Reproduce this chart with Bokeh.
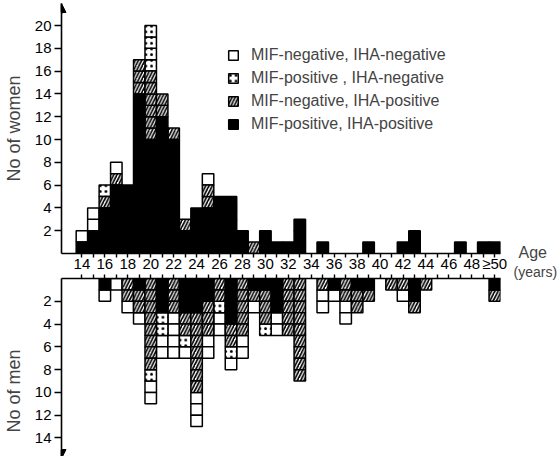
from bokeh.plotting import figure
from bokeh.models import (Range1d, FixedTicker, ColumnDataSource, Legend, LegendItem,
                          Label, Arrow, NormalHead)
from bokeh.layouts import column, row
from bokeh.embed import file_html
from bokeh.resources import INLINE

# ---------------- data ----------------
ages = list(range(14, 51))          # 50 stands for ">=50"
x_tick_values = [14, 16, 18, 20, 22, 24, 26, 28, 30, 32, 34, 36, 38, 40, 42, 44, 46, 48, 50]
x_tick_labels = ["14", "16", "18", "20", "22", "24", "26", "28", "30", "32", "34", "36",
                 "38", "40", "42", "44", "46", "48", "≥50"]
women_y_ticks = [2, 4, 6, 8, 10, 12, 14, 16, 18, 20]
men_y_ticks = [2, 4, 6, 8, 10, 12, 14]

categories = ["MIF-negative, IHA-negative", "MIF-positive , IHA-negative",
              "MIF-negative, IHA-positive", "MIF-positive, IHA-positive"]

#              14 15 16 17 18 19  20  21  22 23 24 25 26 27 28 29 30 31 32 33 34 35 36 37 38 39 40 41 42 43 44 45 46 47 48 49 50
women_negneg = [1, 2, 0, 1, 0, 0,  0,  0,  0, 0, 0, 1, 0, 0, 0, 0, 0, 0, 0, 0, 0, 0, 0, 0, 0, 0, 0, 0, 0, 0, 0, 0, 0, 0, 0, 0, 0]
women_posneg = [0, 0, 1, 0, 0, 0,  4,  0,  0, 0, 0, 0, 0, 0, 0, 0, 0, 0, 0, 0, 0, 0, 0, 0, 0, 0, 0, 0, 0, 0, 0, 0, 0, 0, 0, 0, 0]
women_negpos = [0, 0, 1, 1, 0, 3,  6,  2,  1, 1, 0, 2, 0, 0, 0, 1, 0, 0, 0, 0, 0, 0, 0, 0, 0, 0, 0, 0, 0, 0, 0, 0, 0, 0, 0, 0, 0]
women_pospos = [1, 2, 4, 6, 6, 14, 10, 12, 10, 2, 4, 4, 5, 5, 2, 0, 2, 1, 1, 3, 0, 1, 0, 0, 0, 1, 0, 0, 1, 2, 0, 0, 0, 1, 0, 1, 1]

#            14 15 16 17 18 19 20 21 22 23 24 25 26 27 28 29 30 31 32 33 34 35 36 37 38 39 40 41 42 43 44 45 46 47 48 49 50
men_negneg = [0, 0, 1, 1, 1, 1, 2, 2, 4, 1, 3, 2, 2, 1, 2, 1, 0, 2, 0, 0, 0, 2, 1, 2, 0, 0, 0, 0, 1, 0, 0, 0, 0, 0, 0, 0, 0]
men_posneg = [0, 0, 0, 0, 0, 0, 1, 2, 0, 1, 0, 0, 1, 1, 0, 0, 1, 0, 0, 0, 0, 0, 0, 0, 0, 0, 0, 0, 0, 0, 0, 0, 0, 0, 0, 0, 0]
men_negpos = [0, 0, 0, 0, 2, 2, 8, 0, 3, 2, 7, 3, 2, 2, 5, 1, 3, 0, 5, 9, 0, 1, 0, 2, 2, 1, 0, 1, 1, 1, 1, 0, 0, 0, 0, 0, 1]
men_pospos = [0, 0, 1, 0, 0, 1, 0, 3, 0, 3, 3, 2, 0, 4, 0, 1, 1, 3, 0, 0, 0, 0, 1, 0, 1, 1, 0, 0, 0, 2, 0, 0, 0, 0, 0, 0, 1]

# ---------------- styling ----------------
FONT = "Liberation Sans"
styles = [
    dict(fill_color="white"),
    dict(fill_color="white", hatch_pattern=".", hatch_scale=5.7, hatch_weight=1.0, hatch_color="black"),
    dict(fill_color="white", hatch_pattern="/", hatch_scale=6.5, hatch_weight=1.7, hatch_color="black"),
    dict(fill_color="black"),
]
odd_ages = [a for a in ages if a not in x_tick_values]


def stack_cells(series):
    """series in legend order; stacked from the axis: pos/pos, neg/pos, pos/neg, neg/neg"""
    order = [3, 2, 1, 0]
    out = [dict(x=[], y=[]) for _ in series]
    for i, age in enumerate(ages):
        level = 0
        for c in order:
            for _ in range(series[c][i]):
                out[c]["x"].append(age)
                out[c]["y"].append(level + 0.5)
                level += 1
    return out


def style_axes(p):
    p.xgrid.visible = False
    p.ygrid.visible = False
    p.outline_line_color = None
    for ax in p.axis:
        ax.axis_line_width = 1.6
        ax.major_tick_line_width = 1.4
        ax.minor_tick_line_width = 1.4
        ax.major_tick_in = 0
        ax.minor_tick_in = 0
        ax.minor_tick_out = 0
        ax.major_label_text_font = FONT
        ax.major_label_text_font_size = "15px"
        ax.major_label_text_color = "black"
        ax.axis_label_text_font = FONT
        ax.axis_label_text_font_size = "18px"
        ax.axis_label_text_font_style = "normal"
        ax.axis_line_color = "black"
        ax.major_tick_line_color = "black"
        ax.minor_tick_line_color = "black"


XL, XR = 12.22, 50.5
UNIT = 11.4
FW = 439
LEFT = 58
RIGHT = 12
SIDE_W = 559 - (LEFT + FW + RIGHT)
TOTAL_H = 455

# ---------------- women ----------------
w_top = 21.93
p1 = figure(frame_width=FW, frame_height=round(w_top * UNIT),
            x_range=Range1d(XL, XR), y_range=Range1d(0, w_top),
            output_backend="svg", toolbar_location=None,
            min_border_left=LEFT, min_border_right=RIGHT, min_border_top=3, min_border_bottom=0)
style_axes(p1)
p1.xaxis.ticker = FixedTicker(ticks=x_tick_values, minor_ticks=odd_ages)
p1.xaxis.major_label_overrides = {v: t for v, t in zip(x_tick_values, x_tick_labels)}
p1.xaxis.major_tick_out = 4
p1.xaxis.minor_tick_out = 4
p1.xaxis.major_label_standoff = -3
p1.yaxis.ticker = FixedTicker(ticks=women_y_ticks)
p1.yaxis.major_tick_out = 7
p1.yaxis.major_label_standoff = 3
p1.yaxis.axis_label = "No of women"
p1.yaxis.axis_label_standoff = 8

w_cells = stack_cells([women_negneg, women_posneg, women_negpos, women_pospos])
w_renderers = []
for cells, st in zip(w_cells, styles):
    r = p1.rect(x="x", y="y", width=1, height=1, source=ColumnDataSource(cells),
                line_color="black", line_width=1.5, **st)
    w_renderers.append(r)

legend = Legend(items=[LegendItem(label=c, renderers=[r]) for c, r in zip(categories, w_renderers)],
                location=(166, 120), padding=0, spacing=5, glyph_width=12, glyph_height=12,
                label_standoff=12, label_text_font=FONT, label_text_font_size="16px",
                border_line_color=None, background_fill_alpha=0)
p1.add_layout(legend)

p1.add_layout(Arrow(end=NormalHead(size=9, fill_color="black", line_color="black"),
                    x_start=XL, y_start=21.0, x_end=XL, y_end=w_top, line_width=1.6))

# ---------------- men ----------------
m_bot = 15.8
p2 = figure(frame_width=FW, frame_height=round(m_bot * UNIT),
            x_range=p1.x_range, y_range=Range1d(m_bot, 0), x_axis_location="above",
            output_backend="svg", toolbar_location=None,
            min_border_left=LEFT, min_border_right=RIGHT, min_border_top=0, min_border_bottom=0)
style_axes(p2)
p2.xaxis.ticker = FixedTicker(ticks=[], minor_ticks=ages)
p2.xaxis.minor_tick_out = 4
p2.xaxis.major_label_standoff = 0
p2.yaxis.ticker = FixedTicker(ticks=men_y_ticks)
p2.yaxis.major_tick_out = 7
p2.yaxis.major_label_standoff = 3
p2.yaxis.axis_label = "No of men" + "\u00a0" * 9
p2.yaxis.axis_label_standoff = 8

m_cells = stack_cells([men_negneg, men_posneg, men_negpos, men_pospos])
for cells, st in zip(m_cells, styles):
    p2.rect(x="x", y="y", width=1, height=1, source=ColumnDataSource(cells),
            line_color="black", line_width=1.5, **st)

p2.add_layout(Arrow(end=NormalHead(size=9, fill_color="black", line_color="black"),
                    x_start=XL, y_start=15.0, x_end=XL, y_end=m_bot, line_width=1.6))

# ---------------- side strip holding the "Age (years)" axis title ----------------
p3 = figure(width=SIDE_W, height=TOTAL_H, x_range=Range1d(0, SIDE_W), y_range=Range1d(TOTAL_H, 0),
            x_axis_type=None, y_axis_type=None, output_backend="svg", toolbar_location=None,
            min_border=0)
p3.xgrid.visible = False
p3.ygrid.visible = False
p3.outline_line_color = None
p3.add_layout(Label(x=6, y=252, text="Age", text_baseline="middle", text_font=FONT,
                    text_font_size="16px"))
p3.add_layout(Label(x=1, y=271, text="(years)", text_baseline="middle", text_font=FONT,
                    text_font_size="14px"))

layout = row(column(p1, p2, spacing=0), p3, spacing=0)
open("out.html", "w").write(file_html(layout, INLINE))
